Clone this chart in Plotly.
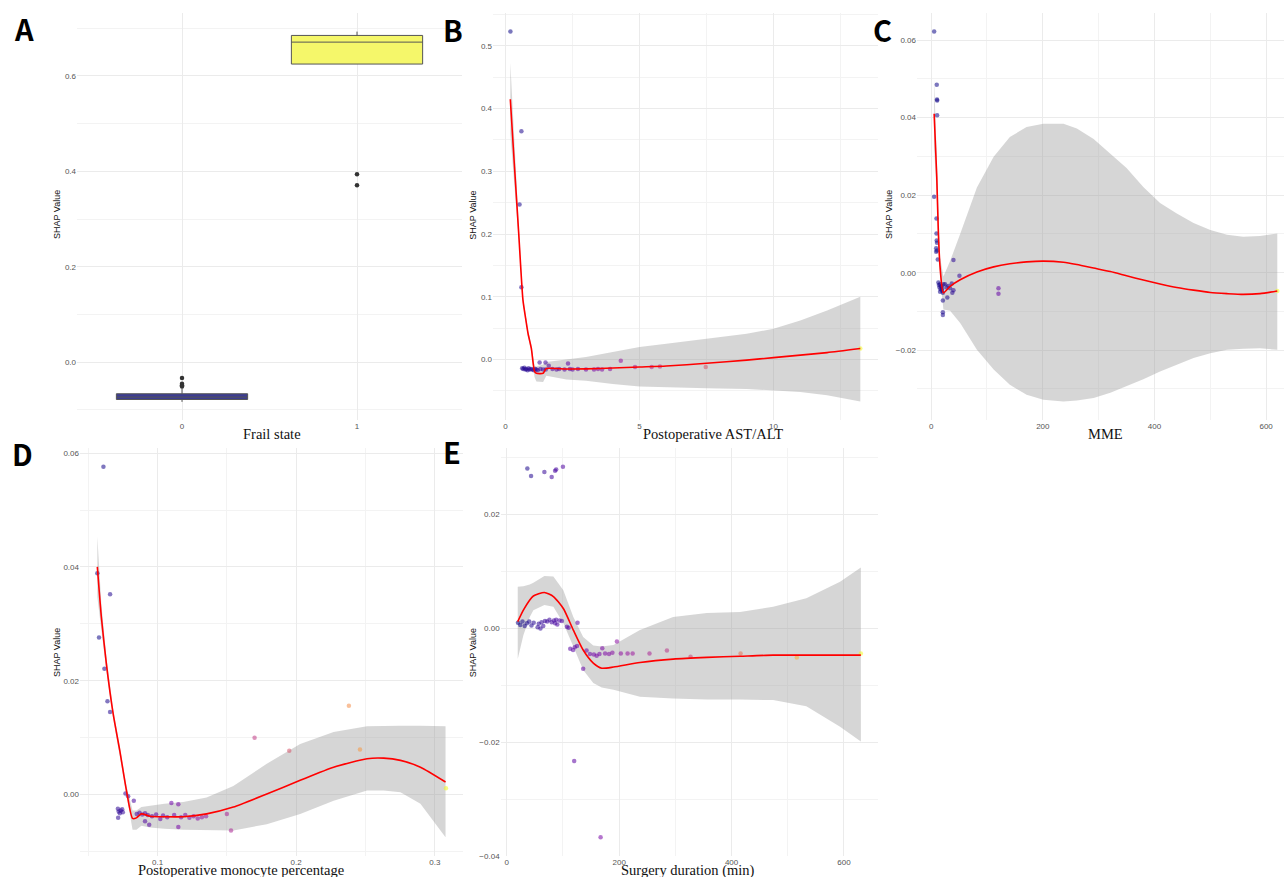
import plotly.graph_objects as go

W, H = 1284, 877

# ---------------- Panel A: Frail state box plot ----------------
a_cats = [0, 1]
a_q1 = [-0.078, 0.625]
a_median = [-0.073, 0.671]
a_q3 = [-0.066, 0.685]
a_lower = [-0.083, 0.625]
a_upper = [-0.055, 0.693]
a_fill = ["#3c3c92", "#f5f76a"]
a_out_x = [0, 0, 0, 0, 1, 1]
a_out_y = [-0.033, -0.045, -0.048, -0.051, 0.394, 0.371]

# ---------------- Panel B: Postoperative AST/ALT ----------------
b_x = [0.18, 0.59, 0.52, 0.59, 0.62, 0.66, 0.70, 0.74, 0.78, 0.82,
       0.86, 0.90, 0.95, 1.00, 1.05, 1.10, 1.15, 1.20, 1.27, 1.30,
       1.40, 1.49, 1.50, 1.61, 1.75, 1.90, 2.00, 2.20, 2.33, 2.40,
       2.50, 2.70, 3.00, 3.30, 3.45, 3.60, 3.90, 4.30, 4.83, 5.45,
       5.76, 7.47, 13.24]
b_y = [0.523, 0.364, 0.247, 0.115, -0.014, -0.015, -0.013, -0.016, -0.015, -0.017,
       -0.014, -0.016, -0.015, -0.016, -0.017, -0.015, -0.016, -0.017, -0.005, -0.015,
       -0.016, -0.005, -0.016, -0.010, -0.015, -0.016, -0.015, -0.016, -0.0064, -0.015,
       -0.016, -0.015, -0.016, -0.016, -0.015, -0.016, -0.015, -0.002, -0.012, -0.012,
       -0.011, -0.012, 0.0175]
b_cx = [0.176, 0.333, 0.49, 0.647, 0.75, 0.84, 0.96, 1.08, 1.15, 1.4,
        1.52, 2.27, 3.0, 4.0, 5.0, 6.0, 7.5, 9.0, 10.0, 11.0,
        12.0, 13.24]
b_cy = [0.415, 0.307, 0.201, 0.095, 0.065, 0.041, 0.018, -0.019, -0.022, -0.022,
        -0.0145, -0.0152, -0.015, -0.0135, -0.012, -0.0105, -0.006, -0.001, 0.003, 0.007,
        0.011, 0.0175]
b_hi = [0.473, 0.34, 0.215, 0.10, 0.069, 0.046, 0.024, -0.010, -0.011, -0.008,
        -0.004, 0.000, 0.004, 0.012, 0.020, 0.025, 0.033, 0.041, 0.049, 0.062,
        0.078, 0.100]
b_lo = [0.36, 0.28, 0.19, 0.09, 0.061, 0.036, 0.012, -0.028, -0.035, -0.036,
        -0.026, -0.032, -0.034, -0.039, -0.043, -0.044, -0.046, -0.047, -0.049, -0.052,
        -0.057, -0.067]

# ---------------- Panel C: MME ----------------
c_x = [5.4, 10.1, 10.5, 10.8, 10.7, 5.4, 9.6, 9.6, 10.0, 10.5,
       9.0, 10.5, 9.0, 11.9, 40, 50.7, 13, 14, 15, 16,
       17, 18, 19, 20, 21, 22, 16, 25, 28, 31,
       34, 37, 40, 38, 29, 21, 21, 21, 120.6, 120.6,
       620]
c_y = [0.0622, 0.0485, 0.0447, 0.0444, 0.0406, 0.0196, 0.014, 0.0101, 0.0083, 0.0077,
       0.0063, 0.0057, 0.0054, 0.0034, 0.0033, -0.0008, -0.0025, -0.0032, -0.0038, -0.0030,
       -0.0042, -0.0035, -0.0046, -0.0040, -0.0052, -0.0030, -0.0049, -0.0030, -0.0038, -0.0034,
       -0.0040, -0.0028, -0.0045, -0.0052, -0.0064, -0.0072, -0.0102, -0.0109, -0.0040, -0.0054,
       -0.0047]
c_cx = [5.4, 10.1, 13, 16, 22, 34, 52, 82, 112, 141,
        171, 201, 237, 261, 291, 321, 350, 380, 410, 440,
        470, 500, 530, 559, 589, 620]
c_cy = [0.041, 0.0247, 0.0101, 0.0015, -0.0052, -0.0035, -0.0018, 0.0002, 0.0015, 0.0023,
        0.0028, 0.0030, 0.0027, 0.0021, 0.0012, 0.0003, -0.0008, -0.0019, -0.0029, -0.0038,
        -0.0045, -0.0051, -0.0054, -0.0056, -0.0054, -0.0047]
c_hi = [0.050, 0.029, 0.013, 0.004, -0.001, 0.003, 0.010, 0.022, 0.0299, 0.035,
        0.0376, 0.0384, 0.0384, 0.0372, 0.0345, 0.0307, 0.027, 0.0221, 0.018, 0.0153,
        0.0128, 0.011, 0.0098, 0.0093, 0.0095, 0.0101]
c_lo = [0.032, 0.020, 0.007, -0.001, -0.0095, -0.0098, -0.013, -0.0199, -0.025, -0.0289,
        -0.0315, -0.0328, -0.0332, -0.0330, -0.0323, -0.031, -0.0293, -0.0275, -0.0255, -0.0237,
        -0.022, -0.0208, -0.0199, -0.0196, -0.0195, -0.0199]

# ---------------- Panel D: Postoperative monocyte percentage ----------------
d_x = [0.061, 0.0566, 0.0658, 0.0578, 0.0617, 0.0639, 0.0658, 0.0769, 0.0788, 0.0829,
       0.0714, 0.072, 0.0728, 0.0735, 0.0745, 0.075, 0.0716, 0.085, 0.087, 0.089,
       0.091, 0.093, 0.091, 0.094, 0.096, 0.099, 0.102, 0.104, 0.107, 0.110,
       0.115, 0.112, 0.115, 0.117, 0.120, 0.123, 0.126, 0.129, 0.132, 0.135,
       0.150, 0.153, 0.170, 0.195, 0.238, 0.246, 0.308]
d_y = [0.0576, 0.0389, 0.0352, 0.0276, 0.0221, 0.0164, 0.0145, 0.0002, -0.0003, -0.0011,
       -0.0025, -0.0030, -0.0033, -0.0028, -0.0026, -0.0031, -0.0041, -0.0034, -0.0032, -0.0035,
       -0.0033, -0.0036, -0.0047, -0.0053, -0.0038, -0.0035, -0.0043, -0.0037, -0.0040, -0.0015,
       -0.0017, -0.0036, -0.0057, -0.0040, -0.0036, -0.0041, -0.0038, -0.0042, -0.0040, -0.0038,
       -0.0034, -0.0063, 0.0100, 0.0077, 0.0156, 0.0079, 0.0011]
d_cx = [0.0566, 0.0595, 0.0631, 0.068, 0.0728, 0.0776, 0.082, 0.0848, 0.0884, 0.0945,
        0.105, 0.1186, 0.1354, 0.1547, 0.1788, 0.2029, 0.227, 0.2511, 0.2631, 0.2752,
        0.2896, 0.3077]
d_cy = [0.040, 0.0312, 0.023, 0.0142, 0.0077, 0.0007, -0.0042, -0.0041, -0.0034, -0.0038,
        -0.0039, -0.0039, -0.0034, -0.0022, 0.0001, 0.0025, 0.0048, 0.0063, 0.0064, 0.0060,
        0.0048, 0.0022]
d_hi = [0.0453, 0.0335, 0.0242, 0.0150, 0.0083, 0.0015, -0.0028, -0.0028, -0.0022, -0.0020,
        -0.0016, -0.0013, -0.0005, 0.0015, 0.0054, 0.0089, 0.0110, 0.0120, 0.0121, 0.0121,
        0.0121, 0.0120]
d_lo = [0.0347, 0.0289, 0.0218, 0.0134, 0.0071, -0.0001, -0.0062, -0.0062, -0.0055, -0.0058,
        -0.0060, -0.0062, -0.0063, -0.0063, -0.0052, -0.0034, -0.0011, 0.0007, 0.0007, 0.0004,
        -0.0016, -0.0075]

# ---------------- Panel E: Surgery duration (min) ----------------
e_x = [36.7, 43.3, 67, 80, 86, 88, 100, 20, 24, 28,
       32, 36, 40, 44, 48, 55, 57, 60, 62, 65,
       68, 72, 76, 80, 84, 86, 88, 90, 94, 98,
       107, 110, 126, 113, 118, 121, 125, 136, 142, 148,
       155, 160, 165, 170, 175, 182, 188, 196, 203, 215,
       224, 254, 285, 327, 416, 516, 630, 120, 167]
e_y = [0.0281, 0.0268, 0.0275, 0.0266, 0.0277, 0.0279, 0.0284, 0.0010, 0.0006, 0.0012,
       0.0004, 0.0009, 0.0012, 0.0005, 0.0010, 0.0002, 0.0008, 0.0000, 0.0011, 0.0004,
       0.0013, 0.0012, 0.0015, 0.0011, 0.0014, 0.0009, 0.0015, 0.0007, 0.0014, 0.0013,
       0.0003, 0.0001, 0.0010, -0.0036, -0.0038, -0.0033, -0.0031, -0.0071, -0.0039, -0.0045,
       -0.0046, -0.0048, -0.0045, -0.0035, -0.0044, -0.0045, -0.0043, -0.0023, -0.0044, -0.0044,
       -0.0044, -0.0044, -0.0039, -0.0050, -0.0044, -0.0051, -0.0044, -0.0233, -0.0367]
e_cx = [19.6, 29.6, 41, 47.4, 67, 83, 100.7, 118.5, 136, 154,
        169, 190, 237, 296, 356, 415, 474, 533, 593, 630]
e_cy = [0.0012, 0.0032, 0.0050, 0.0057, 0.0063, 0.0056, 0.0035, -0.0003, -0.0038, -0.0061,
        -0.0070, -0.0068, -0.0060, -0.0054, -0.0051, -0.0049, -0.0047, -0.0047, -0.0047, -0.0047]
e_hi = [0.0073, 0.0074, 0.0077, 0.0080, 0.0092, 0.0091, 0.0067, 0.0020, -0.0015, -0.0030,
        -0.0032, -0.0029, -0.0003, 0.0020, 0.0027, 0.0029, 0.0038, 0.0053, 0.0082, 0.0107]
e_lo = [-0.0054, -0.0012, 0.0020, 0.0032, 0.0041, 0.0038, 0.0009, -0.0032, -0.0073, -0.0096,
        -0.0104, -0.0108, -0.0120, -0.0123, -0.0125, -0.0125, -0.0126, -0.0137, -0.0173, -0.0199]

x_titles = ["Frail state", "Postoperative AST/ALT", "MME",
            "Postoperative monocyte percentage", "Surgery duration (min)"]
y_title = "SHAP Value"
panel_letters = ["A", "B", "C", "D", "E"]

# ---------------- figure ----------------
fig = go.Figure()

RIBBON = "rgba(153,153,153,0.4)"


def add_smooth(n, cx, cy, lo, hi):
    xa, ya = "x%d" % n, "y%d" % n
    fig.add_trace(go.Scatter(x=cx + cx[::-1], y=hi + lo[::-1], fill="toself",
                             fillcolor=RIBBON, line=dict(width=0),
                             mode="lines", hoverinfo="skip", xaxis=xa, yaxis=ya))


def add_points(n, px, py):
    xa, ya = "x%d" % n, "y%d" % n
    fig.add_trace(go.Scatter(x=px, y=py, mode="markers", xaxis=xa, yaxis=ya,
                             marker=dict(color=px, colorscale="Plasma",
                                         cmin=min(px), cmax=max(px),
                                         size=4.5, opacity=0.55, line=dict(width=0))))


def add_line(n, cx, cy):
    xa, ya = "x%d" % n, "y%d" % n
    fig.add_trace(go.Scatter(x=cx, y=cy, mode="lines", xaxis=xa, yaxis=ya,
                             line=dict(color="#ff0000", width=1.6, shape="spline",
                                       smoothing=0.6)))


# Panel A boxes
for i in range(2):
    fig.add_trace(go.Box(x=[a_cats[i]], q1=[a_q1[i]], median=[a_median[i]], q3=[a_q3[i]],
                         lowerfence=[a_lower[i]], upperfence=[a_upper[i]],
                         fillcolor=a_fill[i], line=dict(color="#555555", width=1),
                         width=0.75, whiskerwidth=0, boxpoints=False,
                         xaxis="x", yaxis="y"))
fig.add_trace(go.Scatter(x=a_out_x, y=a_out_y, mode="markers", xaxis="x", yaxis="y",
                         marker=dict(color="#333333", size=4.5)))

panels = [(2, b_x, b_y, b_cx, b_cy, b_lo, b_hi),
          (3, c_x, c_y, c_cx, c_cy, c_lo, c_hi),
          (4, d_x, d_y, d_cx, d_cy, d_lo, d_hi),
          (5, e_x, e_y, e_cx, e_cy, e_lo, e_hi)]
for n, px, py, cx, cy, lo, hi in panels:
    add_smooth(n, cx, cy, lo, hi)
    add_points(n, px, py)
    add_line(n, cx, cy)


def dom_x(a, b):
    return [a / W, min(b / W, 1.0)]


def dom_y(top, bottom):
    return [1 - bottom / H, 1 - top / H]


GRID = "#ebebeb"
MINOR = "#f3f3f3"
TF = dict(family="Liberation Sans, Arial, sans-serif", size=8, color="#555555")


def axis(domain, rng, dtick, minor_dtick, fmt, anchor, tickvals=None):
    d = dict(domain=domain, range=rng, showgrid=True, gridcolor=GRID, gridwidth=0.8,
             zeroline=False, showline=False, ticks="", tickfont=TF, anchor=anchor,
             tickformat=fmt, automargin=False)
    if tickvals is not None:
        d["tickmode"] = "array"
        d["tickvals"] = tickvals
    else:
        d["tick0"] = 0
        d["dtick"] = dtick
    if minor_dtick:
        d["minor"] = dict(showgrid=True, gridcolor=MINOR, gridwidth=0.6,
                          tick0=0, dtick=minor_dtick, ticks="")
    return d


top_row = dom_y(13, 420)
bot_row = dom_y(448, 856)

fig.update_layout(
    template="none",
    width=W, height=H, margin=dict(l=0, r=0, t=0, b=0, pad=0, autoexpand=False),
    paper_bgcolor="white", plot_bgcolor="white", showlegend=False,
    xaxis=axis(dom_x(77, 462), [-0.6, 1.6], None, None, "d", "y", tickvals=a_cats),
    yaxis=axis(top_row, [-0.121, 0.732], 0.2, 0.1, ".1f", "x"),
    xaxis2=axis(dom_x(493, 878), [-0.47, 13.9], 5, 2.5, "d", "y2"),
    yaxis2=axis(top_row, [-0.0965, 0.5525], 0.1, 0.05, ".1f", "x2"),
    xaxis3=axis(dom_x(917, 1284), [-25.3, 632], 200, 100, "d", "y3"),
    yaxis3=axis(top_row, [-0.038, 0.067], 0.02, 0.01, ".2f", "x3"),
    xaxis4=axis(dom_x(80, 463), [0.0441, 0.3203], 0.1, 0.05, ".1f", "y4"),
    yaxis4=axis(bot_row, [-0.0108, 0.0609], 0.02, 0.01, ".2f", "x4"),
    xaxis5=axis(dom_x(500.6, 878), [-10.9, 660.5], 200, 100, "d", "y5"),
    yaxis5=axis(bot_row, [-0.0400, 0.0317], 0.02, 0.01, ".2f", "x5"),
)

annotations = []
# x axis titles
xt_pos = [(272, 434), (713, 434), (1105.5, 434), (240.5, 870), (688, 870)]
for t, (px, py) in zip(x_titles, xt_pos):
    annotations.append(dict(text=t, x=px / W, y=1 - py / H, xref="paper", yref="paper",
                            xanchor="center", yanchor="middle", showarrow=False,
                            font=dict(family="Liberation Serif, Times New Roman, serif",
                                      size=14.5, color="#111111")))
# y axis titles
yt_pos = [(57, 215), (472.7, 215), (889, 215), (57, 653), (473.3, 653)]
for (px, py) in yt_pos:
    annotations.append(dict(text=y_title, x=px / W, y=1 - py / H, xref="paper", yref="paper",
                            xanchor="center", yanchor="middle", showarrow=False, textangle=-90,
                            font=dict(family="Liberation Sans, Arial, sans-serif",
                                      size=9, color="#111111")))
# panel letters
lt_pos = [(24, 28), (453, 29), (882, 29), (23, 453), (452, 451)]
for t, (px, py) in zip(panel_letters, lt_pos):
    annotations.append(dict(text="<b>%s</b>" % t, x=px / W, y=1 - py / H, xref="paper",
                            yref="paper", xanchor="center", yanchor="middle", showarrow=False,
                            font=dict(family="Noto Sans CJK SC, Noto Sans, sans-serif",
                                      size=29, color="#000000")))
fig.update_layout(annotations=annotations)

fig.write_html("out.html",
               config={"displayModeBar": False},
               post_script="document.body.style.margin='0px';"
                           "document.body.style.overflow='hidden';")
